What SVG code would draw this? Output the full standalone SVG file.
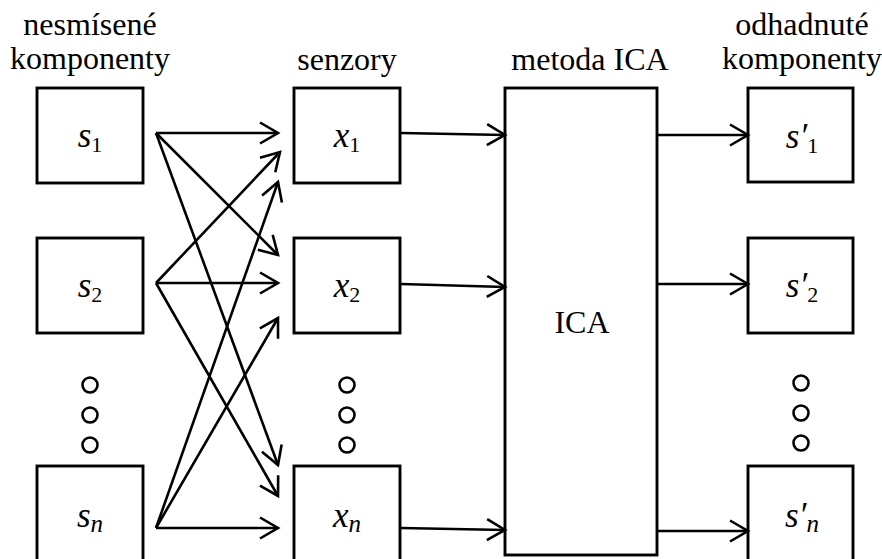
<svg xmlns="http://www.w3.org/2000/svg" width="882" height="559" viewBox="0 0 882 559">
  <style>
    .box { fill: #ffffff; stroke: #000000; stroke-width: 2.9; }
    .dot { fill: none; stroke: #000000; stroke-width: 2.6; }
    .wire { fill: none; stroke: #000000; stroke-width: 2.6; marker-end: url(#head); }
    .cap { font-family: "Liberation Serif", "Times New Roman", serif; font-size: 32px; fill: #000000; text-anchor: middle; }
    .math { font-family: "Liberation Serif", "Times New Roman", serif; font-size: 35px; font-style: italic; fill: #000000; text-anchor: middle; }
    .sub { font-style: normal; font-size: 22px; }
    .subi { font-style: italic; font-size: 25px; }
  </style>
  <defs>
    <marker id="head" markerUnits="userSpaceOnUse" viewBox="-22 -13 25 26" markerWidth="25" markerHeight="26" refX="0" refY="0" orient="auto">
      <path d="M-18,-10.5 L0,0 L-18,10.5" fill="none" stroke="#000000" stroke-width="2.6" stroke-linejoin="miter"/>
    </marker>
  </defs>

  <rect width="882" height="559" fill="#ffffff"/>

  <!-- column headings -->
  <g id="headings">
    <text class="cap" x="90" y="35">nesmísené</text>
    <text class="cap" x="90" y="69">komponenty</text>
    <text class="cap" x="347" y="70">senzory</text>
    <text class="cap" x="590" y="70">metoda ICA</text>
    <text class="cap" x="802" y="35">odhadnuté</text>
    <text class="cap" x="802" y="69">komponenty</text>
  </g>

  <!-- unmixed sources -->
  <g id="s1">
    <rect class="box" x="37" y="88" width="106" height="95"/>
    <text class="math" x="90" y="147">s<tspan class="sub" dy="5">1</tspan></text>
  </g>
  <g id="s2">
    <rect class="box" x="37" y="238" width="106" height="95"/>
    <text class="math" x="90" y="297">s<tspan class="sub" dy="5">2</tspan></text>
  </g>
  <g id="s-dots">
    <circle class="dot" cx="90" cy="385" r="7.5"/>
    <circle class="dot" cx="90" cy="415" r="7.5"/>
    <circle class="dot" cx="90" cy="445" r="7.5"/>
  </g>
  <g id="sn">
    <rect class="box" x="37" y="466" width="106" height="95"/>
    <text class="math" x="90" y="527">s<tspan class="subi" dy="5">n</tspan></text>
  </g>

  <!-- sensors -->
  <g id="x1">
    <rect class="box" x="294" y="88" width="106" height="95"/>
    <text class="math" x="347" y="147">x<tspan class="sub" dy="5">1</tspan></text>
  </g>
  <g id="x2">
    <rect class="box" x="294" y="238" width="106" height="95"/>
    <text class="math" x="347" y="297">x<tspan class="sub" dy="5">2</tspan></text>
  </g>
  <g id="x-dots">
    <circle class="dot" cx="347" cy="385" r="7.5"/>
    <circle class="dot" cx="347" cy="415" r="7.5"/>
    <circle class="dot" cx="347" cy="445" r="7.5"/>
  </g>
  <g id="xn">
    <rect class="box" x="294" y="466" width="106" height="95"/>
    <text class="math" x="347" y="527">x<tspan class="subi" dy="5">n</tspan></text>
  </g>

  <!-- ICA block -->
  <g id="ica">
    <rect class="box" x="505" y="88" width="152" height="467"/>
    <text class="cap" x="582" y="333">ICA</text>
  </g>

  <!-- estimated components -->
  <g id="e1">
    <rect class="box" x="748" y="88" width="105" height="94"/>
    <text class="math" x="802" y="148">s′<tspan class="sub" dy="5">1</tspan></text>
  </g>
  <g id="e2">
    <rect class="box" x="748" y="238" width="105" height="95"/>
    <text class="math" x="802" y="297">s′<tspan class="sub" dy="5">2</tspan></text>
  </g>
  <g id="e-dots">
    <circle class="dot" cx="801" cy="383" r="7.5"/>
    <circle class="dot" cx="801" cy="413" r="7.5"/>
    <circle class="dot" cx="801" cy="443" r="7.5"/>
  </g>
  <g id="en">
    <rect class="box" x="748" y="466" width="105" height="95"/>
    <text class="math" x="802" y="527">s′<tspan class="subi" dy="5">n</tspan></text>
  </g>

  <!-- connectors -->
  <g id="connectors">
    <!-- mixing: every source to every sensor -->
    <line class="wire" x1="156" y1="133" x2="278" y2="133"/>
    <line class="wire" x1="156" y1="133" x2="278" y2="255"/>
    <line class="wire" x1="156" y1="133" x2="278" y2="465"/>
    <line class="wire" x1="156" y1="283" x2="280" y2="152"/>
    <line class="wire" x1="156" y1="283" x2="278" y2="283"/>
    <line class="wire" x1="156" y1="283" x2="278" y2="496"/>
    <line class="wire" x1="156" y1="528" x2="278" y2="182"/>
    <line class="wire" x1="156" y1="528" x2="278" y2="318"/>
    <line class="wire" x1="156" y1="528" x2="278" y2="528"/>
    <!-- sensors into ICA -->
    <line class="wire" x1="401" y1="133" x2="505" y2="135"/>
    <line class="wire" x1="401" y1="284" x2="505" y2="287"/>
    <line class="wire" x1="401" y1="528" x2="505" y2="530"/>
    <!-- ICA outputs -->
    <line class="wire" x1="657" y1="135" x2="748" y2="135"/>
    <line class="wire" x1="657" y1="284" x2="748" y2="284"/>
    <line class="wire" x1="657" y1="531" x2="748" y2="531"/>
  </g>
</svg>
